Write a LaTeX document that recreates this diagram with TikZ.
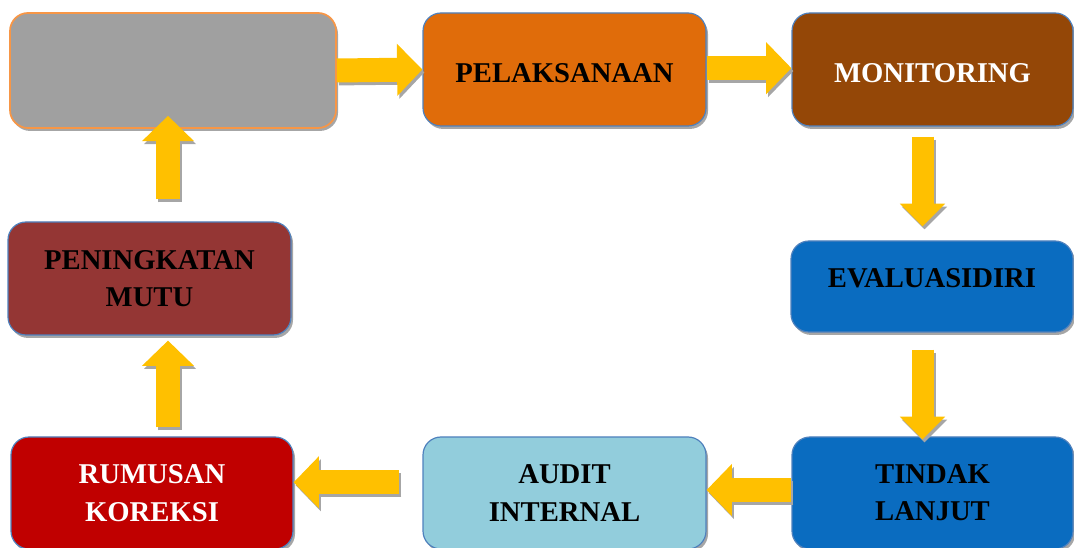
\documentclass[tikz,border=0pt]{standalone}
\usepackage{fontspec}
\setmainfont{Liberation Serif}
\usetikzlibrary{arrows.meta,shadows,calc}
\definecolor{arrowy}{HTML}{FFC000}
\definecolor{shadgray}{HTML}{A6A6A6}
\definecolor{startgray}{HTML}{A0A0A0}
\definecolor{startborder}{HTML}{F79646}
\definecolor{pelc}{HTML}{E06C0A}
\definecolor{monc}{HTML}{944707}
\definecolor{bluec}{HTML}{0A6CC0}
\definecolor{auditc}{HTML}{92CDDC}
\definecolor{rumc}{HTML}{C00000}
\definecolor{penc}{HTML}{943634}
\definecolor{bordc}{HTML}{4F81BD}
\tikzset{
  box/.style={draw=bordc, line width=0.9pt, rounded corners=13.5pt,
    font=\fontsize{21.5}{28}\selectfont\bfseries, align=center, inner sep=0pt,
    drop shadow={shadow xshift=1.5pt, shadow yshift=-2.2pt, fill=shadgray, opacity=1}},
  bigarrow/.style={draw=arrowy, line width=18pt, -{Triangle[width=38pt,length=19pt]}},
  smallarrow/.style={draw=arrowy, line width=16.5pt, -{Triangle[width=33pt,length=17pt]}},
  shad/.style={draw=shadgray, transform canvas={shift={(1.5pt,-2.2pt)}}}
}
\begin{document}
\begin{tikzpicture}[x=0.75pt,y=-0.75pt]
\useasboundingbox (0,0) rectangle (1074,548);
% boxes
\node[box, draw=startborder, line width=1.3pt, fill=startgray, minimum width=244.5pt, minimum height=86.25pt] (start) at (173,70.5) {};
\node[box, fill=pelc, minimum width=212.25pt, minimum height=84.75pt, text height=19.4pt, text depth=0pt] (pel) at (564.5,69.5) {PELAKSANAAN};
\node[box, fill=monc, text=white, minimum width=210.75pt, minimum height=84.75pt, text height=19.4pt, text depth=0pt] (mon) at (932.5,69.5) {MONITORING};
\node[box, fill=bluec, minimum width=211.5pt, minimum height=68.25pt, text height=14.2pt, text depth=12pt] (eval) at (932,286.5) {EVALUASIDIRI};
\node[box, fill=bluec, minimum width=210.75pt, minimum height=84pt] (tindak) at (932.5,493) {TINDAK\\LANJUT};
\node[box, fill=auditc, minimum width=212.25pt, minimum height=84pt] (audit) at (564.5,493) {AUDIT\\INTERNAL};
\node[box, fill=rumc, text=white, minimum width=211.5pt, minimum height=84pt] (rum) at (152,493) {RUMUSAN\\KOREKSI};
\node[box, fill=penc, minimum width=212.25pt, minimum height=84.75pt] (pen) at (149.5,278.5) {PENINGKATAN\\MUTU};
% column coordinates
\coordinate (rc) at (922.5,0);
\coordinate (lc) at (168,0);
% arrows: shadows
\draw[bigarrow, shad] (start.east) -- (pel.west);
\draw[bigarrow, shad] ([yshift=1pt]pel.east) -- ([yshift=1pt]mon.west);
\draw[smallarrow, shad, shorten <=7.5pt, shorten >=10.5pt] (mon.south -| rc) -- (eval.north -| rc);
\draw[smallarrow, shad, shorten <=12.75pt, shorten >=-2.25pt] (eval.south -| rc) -- (tindak.north -| rc);
\draw[bigarrow, shad] ([yshift=2.25pt]tindak.west) -- ([yshift=2.25pt]audit.east);
\draw[bigarrow, shad, shorten <=17.25pt] ([yshift=8pt]audit.west) -- ([yshift=8pt]rum.east);
\draw[bigarrow, shad, shorten <=6.75pt, shorten >=3.75pt] (rum.north -| lc) -- (pen.south -| lc);
\draw[bigarrow, shad, shorten <=16.5pt, shorten >=-9.75pt] (pen.north -| lc) -- (start.south -| lc);
% arrows
\draw[bigarrow] (start.east) -- (pel.west);
\draw[bigarrow] ([yshift=1pt]pel.east) -- ([yshift=1pt]mon.west);
\draw[smallarrow, shorten <=7.5pt, shorten >=10.5pt] (mon.south -| rc) -- (eval.north -| rc);
\draw[smallarrow, shorten <=12.75pt, shorten >=-2.25pt] (eval.south -| rc) -- (tindak.north -| rc);
\draw[bigarrow] ([yshift=2.25pt]tindak.west) -- ([yshift=2.25pt]audit.east);
\draw[bigarrow, shorten <=17.25pt] ([yshift=8pt]audit.west) -- ([yshift=8pt]rum.east);
\draw[bigarrow, shorten <=6.75pt, shorten >=3.75pt] (rum.north -| lc) -- (pen.south -| lc);
\draw[bigarrow, shorten <=16.5pt, shorten >=-9.75pt] (pen.north -| lc) -- (start.south -| lc);
\end{tikzpicture}
\end{document}
